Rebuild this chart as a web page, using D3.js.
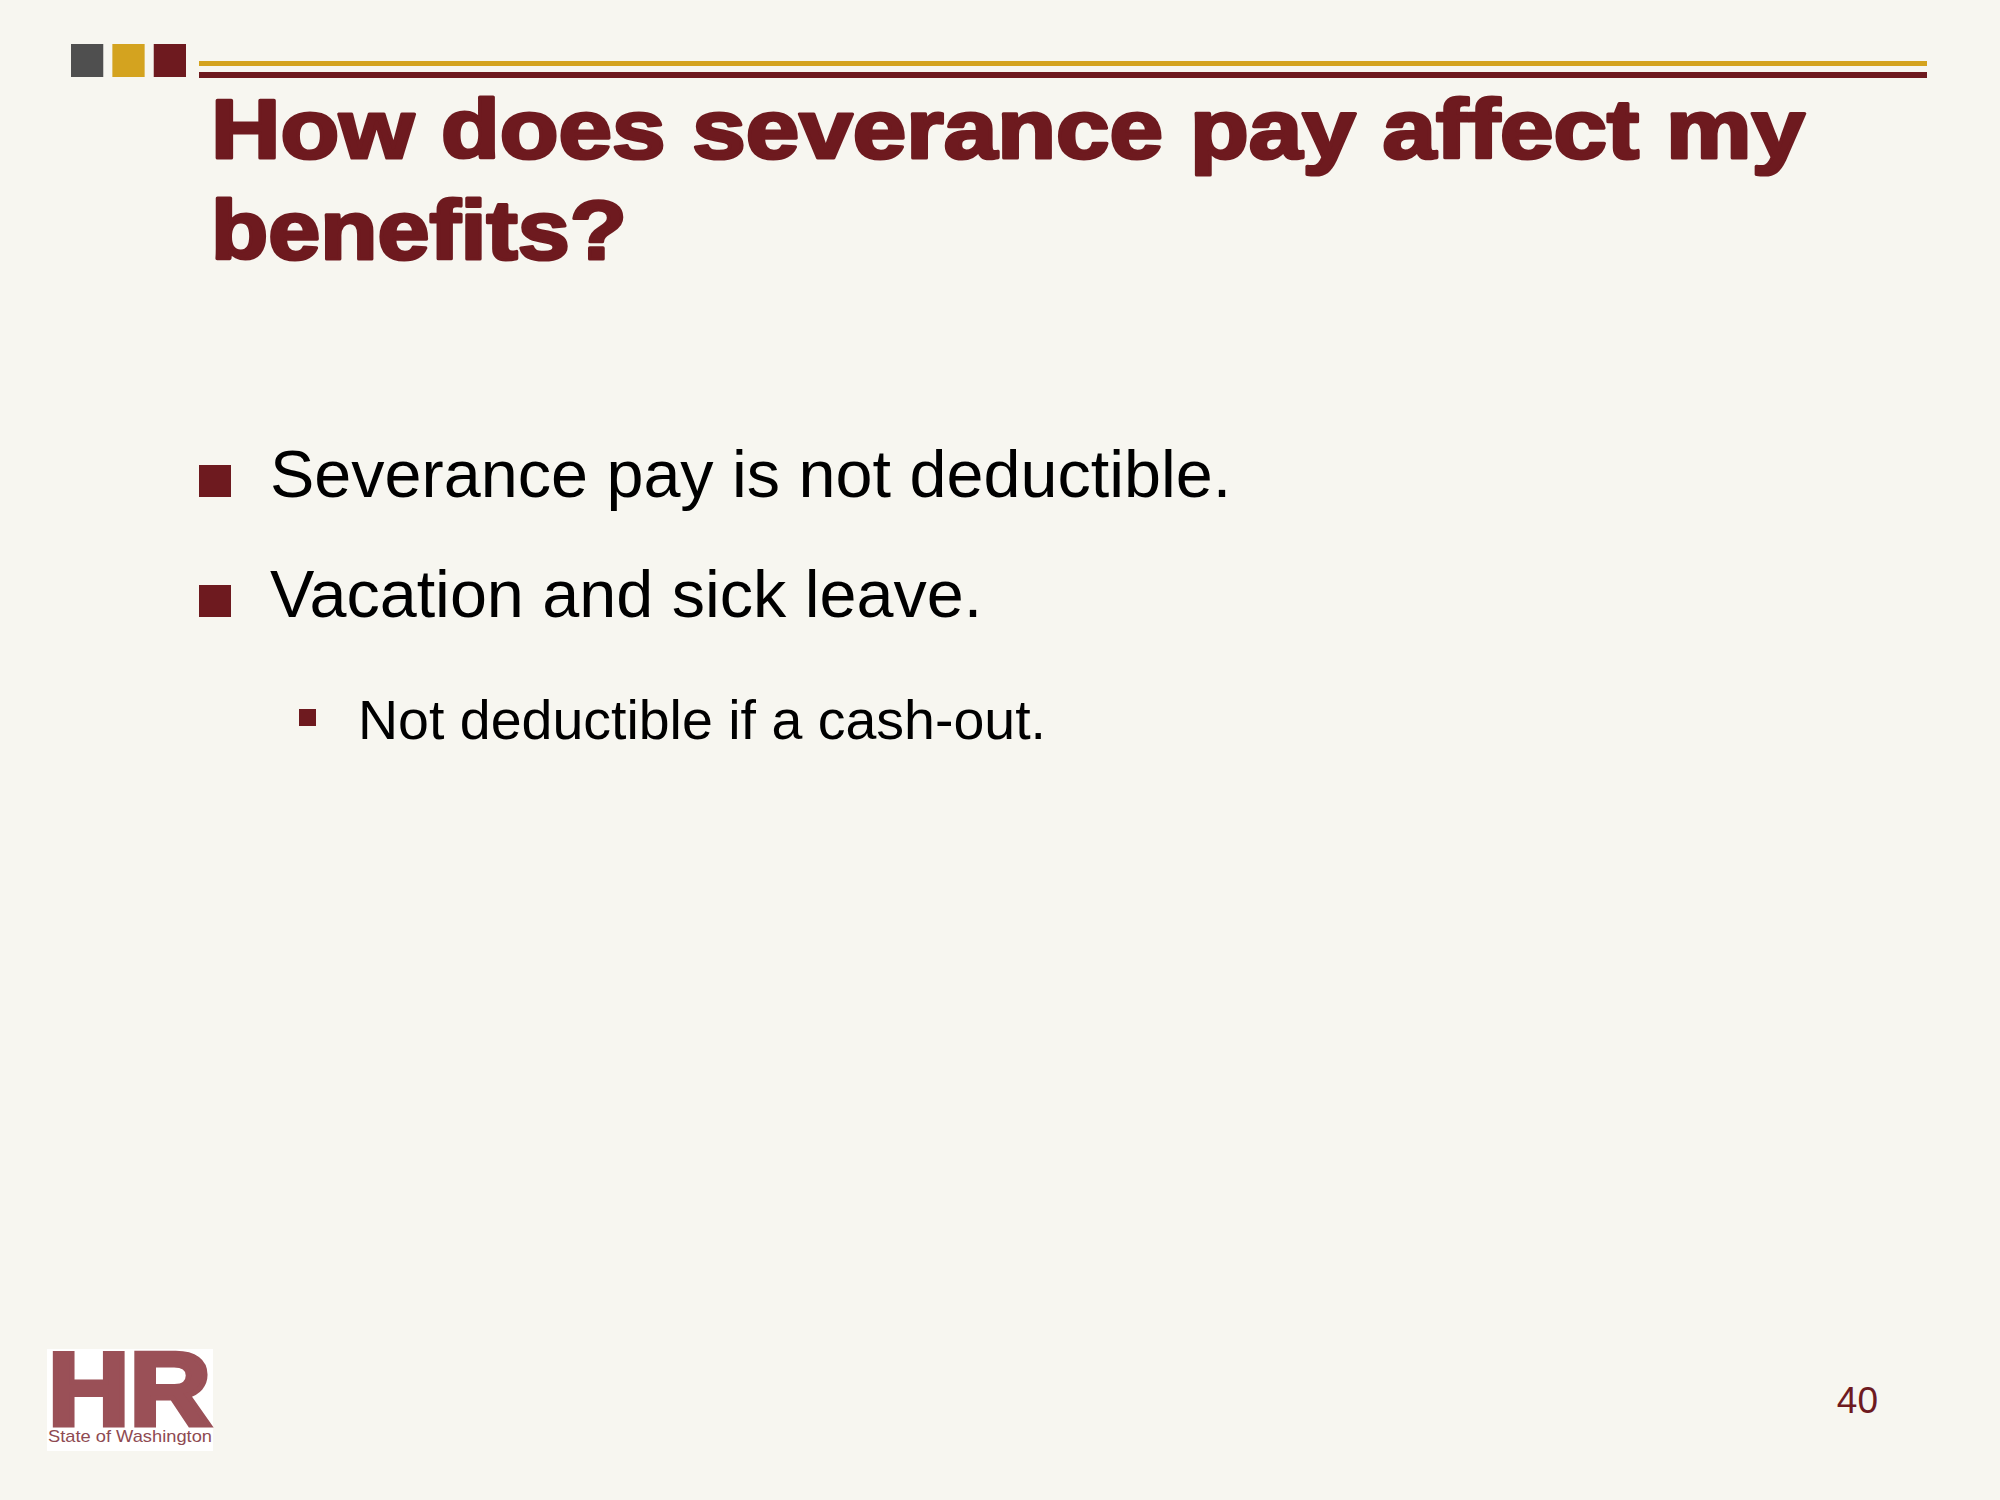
<!DOCTYPE html>
<html>
<head>
<meta charset="utf-8">
<script src="https://cdn.jsdelivr.net/npm/d3@7"></script>
<style>
  html, body { margin: 0; padding: 0; background: #f7f6f0; }
  svg { display: block; }
</style>
</head>
<body>
<div class="slide"></div>
<script>
const titleLines = ['How does severance pay affect my', 'benefits?']
const bulletTexts = ['Severance pay is not deductible.', 'Vacation and sick leave.', 'Not deductible if a cash-out.']
const bulletLevels = [0, 0, 1]
const headerSwatches = ['#4f4f4f', '#d4a31f', '#6e1a1f']
const pageNumber = '40'
const logoText = 'HR'
const logoCaption = 'State of Washington'

const width = 2000
const height = 1500
const maroon = '#6e1a1f'

const svg = d3.select('.slide').append('svg')
  .attr('width', width)
  .attr('height', height)

svg.append('rect')
  .attr('width', width)
  .attr('height', height)
  .attr('fill', '#f7f6f0')

// header squares
const swatchX = d3.scaleBand()
  .domain(d3.range(headerSwatches.length))
  .range([71, 186])
  .paddingInner(0.22)

svg.selectAll('.swatch')
  .data(headerSwatches)
  .enter().append('rect')
  .attr('class', 'swatch')
  .attr('x', (d, i) => swatchX(i))
  .attr('y', 44)
  .attr('width', swatchX.bandwidth())
  .attr('height', 33)
  .attr('fill', d => d)

// header rules
svg.append('rect').attr('x', 199).attr('y', 61).attr('width', 1728).attr('height', 5).attr('fill', '#d4a31f')
svg.append('rect').attr('x', 199).attr('y', 72).attr('width', 1728).attr('height', 6).attr('fill', maroon)

// title
const titleWidths = [1594, 416]
svg.selectAll('.title')
  .data(titleLines)
  .enter().append('text')
  .attr('class', 'title')
  .attr('x', 211)
  .attr('y', (d, i) => 158 + i * 101)
  .attr('textLength', (d, i) => titleWidths[i])
  .attr('lengthAdjust', 'spacingAndGlyphs')
  .attr('font-family', '"Arial Black", "Liberation Sans", Arial, sans-serif')
  .attr('font-weight', 900)
  .attr('font-size', 84)
  .attr('fill', maroon)
  .attr('stroke', maroon)
  .attr('stroke-width', 3.2)
  .attr('stroke-linejoin', 'round')
  .text(d => d)

// bullets
const bulletY = d3.scaleOrdinal().domain(d3.range(bulletTexts.length)).range([497, 617, 739])
const levelX = d3.scaleOrdinal().domain([0, 1]).range([270, 358])
const markerX = d3.scaleOrdinal().domain([0, 1]).range([199, 299])
const markerSize = d3.scaleOrdinal().domain([0, 1]).range([32, 17])
const textSize = d3.scaleOrdinal().domain([0, 1]).range([66.5, 55.5])

const items = bulletTexts.map((t, i) => ({ text: t, level: bulletLevels[i], i }))

svg.selectAll('.marker')
  .data(items)
  .enter().append('rect')
  .attr('class', 'marker')
  .attr('x', d => markerX(d.level))
  .attr('y', d => bulletY(d.i) - (d.level ? 30 : 32))
  .attr('width', d => markerSize(d.level))
  .attr('height', d => markerSize(d.level))
  .attr('fill', maroon)

svg.selectAll('.bullet')
  .data(items)
  .enter().append('text')
  .attr('class', 'bullet')
  .attr('x', d => levelX(d.level))
  .attr('y', d => bulletY(d.i))
  .attr('font-family', '"Liberation Sans", Arial, sans-serif')
  .attr('font-size', d => textSize(d.level))
  .attr('fill', '#000')
  .text(d => d.text)

// logo
const logo = svg.append('g').attr('transform', 'translate(47,1349)')
logo.append('rect').attr('width', 166).attr('height', 102).attr('fill', '#ffffff')
logo.append('text')
  .attr('x', 1)
  .attr('y', 76)
  .attr('textLength', 163)
  .attr('lengthAdjust', 'spacingAndGlyphs')
  .attr('font-family', '"Liberation Sans", Arial, sans-serif')
  .attr('font-weight', 700)
  .attr('font-size', 104)
  .attr('fill', '#9a5057')
  .attr('stroke', '#9a5057')
  .attr('stroke-width', 5)
  .text(logoText)
logo.append('text')
  .attr('x', 1)
  .attr('y', 93)
  .attr('textLength', 164)
  .attr('lengthAdjust', 'spacingAndGlyphs')
  .attr('font-family', '"Liberation Sans", Arial, sans-serif')
  .attr('font-size', 17)
  .attr('fill', '#8e4a52')
  .text(logoCaption)

// page number
svg.append('text')
  .attr('x', 1878)
  .attr('y', 1413)
  .attr('text-anchor', 'end')
  .attr('font-family', '"Liberation Sans", Arial, sans-serif')
  .attr('font-size', 37)
  .attr('fill', maroon)
  .text(pageNumber)
</script>
</body>
</html>
